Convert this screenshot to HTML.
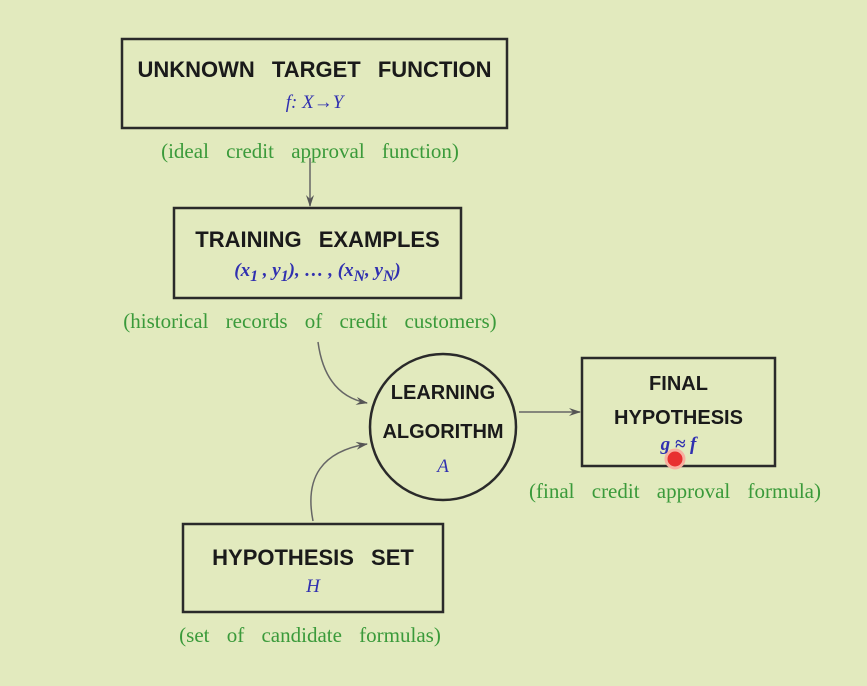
<!DOCTYPE html>
<html><head><style>
body{margin:0;width:867px;height:686px;background:#e2eabe;overflow:hidden;position:relative;font-family:"Liberation Sans",sans-serif}
.t{position:absolute;white-space:nowrap;text-align:center}
.b{font-weight:bold;font-size:22px;color:#1a1a1a;word-spacing:11px}
.g{font-family:"Liberation Serif",serif;color:#3a9a3a;font-size:21px;word-spacing:12px}
.m{font-family:"Liberation Serif",serif;color:#3030b0;font-style:italic;font-size:19px}
</style></head><body>
<svg width="867" height="686" style="position:absolute;left:0;top:0">
<defs><marker id="a" markerWidth="12" markerHeight="8" refX="11" refY="4" orient="auto" markerUnits="userSpaceOnUse"><path d="M0,0 L12,4 L0,8 L4,4Z" fill="#555"/></marker></defs>
<g fill="none" stroke="#2a2a2a" stroke-width="2.5">
<rect x="122" y="39" width="385" height="89"/>
<rect x="174" y="208" width="287" height="90"/>
<circle cx="443" cy="427" r="73"/>
<rect x="582" y="358" width="193" height="108"/>
<rect x="183" y="524" width="260" height="88"/>
</g>
<g fill="none" stroke="#666" stroke-width="1.5">
<path d="M310 158 V206" marker-end="url(#a)"/>
<path d="M318 342 Q325 395 367 403" marker-end="url(#a)"/>
<path d="M313 521 Q300 455 367 444" marker-end="url(#a)"/>
<path d="M519 412 H580" marker-end="url(#a)"/>
</g>
<circle cx="675" cy="459" r="9" fill="#e83030" stroke="#f8b0a0" stroke-width="3"/>
</svg>
<div class="t b" style="left:122px;width:385px;top:57px">UNKNOWN TARGET FUNCTION</div>
<div class="t m" style="left:122px;width:385px;top:92px">f: X→Y</div>
<div class="t g" style="left:90px;width:440px;top:139px">(ideal credit approval function)</div>
<div class="t b" style="left:174px;width:287px;top:227px">TRAINING EXAMPLES</div>
<div class="t m" style="left:174px;width:287px;top:260px;font-weight:bold">(<b>x</b><sub>1</sub> , y<sub>1</sub>), … , (<b>x</b><sub>N</sub>, y<sub>N</sub>)</div>
<div class="t g" style="left:80px;width:460px;top:309px">(historical records of credit customers)</div>
<div class="t b" style="left:360px;width:166px;top:382px;font-size:20px">LEARNING</div>
<div class="t b" style="left:360px;width:166px;top:421px;font-size:20px">ALGORITHM</div>
<div class="t m" style="left:370px;width:146px;top:456px">A</div>
<div class="t b" style="left:582px;width:193px;top:373px;font-size:20px">FINAL</div>
<div class="t b" style="left:582px;width:193px;top:407px;font-size:20px">HYPOTHESIS</div>
<div class="t m" style="left:582px;width:193px;top:434px;font-weight:bold">g ≈ f</div>
<div class="t g" style="left:500px;width:350px;top:479px">(final credit approval formula)</div>
<div class="t b" style="left:183px;width:260px;top:545px">HYPOTHESIS SET</div>
<div class="t m" style="left:183px;width:260px;top:576px">H</div>
<div class="t g" style="left:140px;width:340px;top:623px">(set of candidate formulas)</div>
</body></html>
